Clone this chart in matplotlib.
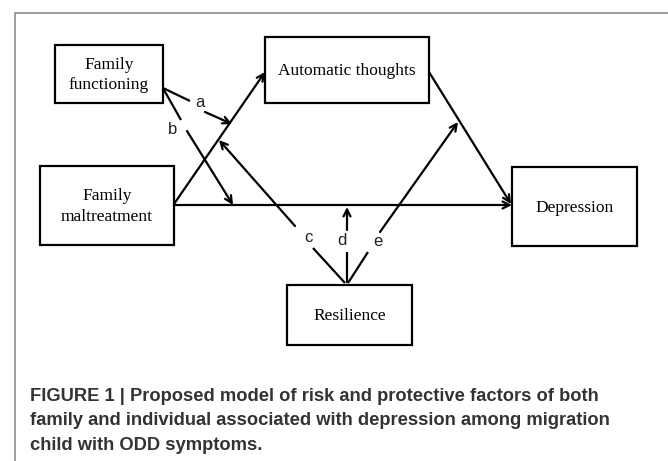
import matplotlib.pyplot as plt

# cajas del modelo (x0, y0, x1, y1) en pixeles de la imagen
cajas = {
    'ff': (55, 45, 163, 103),
    'at': (265, 37, 429, 103),
    'fm': (40, 166, 174, 245),
    'dep': (512, 167, 637, 246),
    'res': (287, 285, 412, 345),
}
textos = {
    'ff': 'Family\nfunctioning',
    'at': 'Automatic thoughts',
    'fm': 'Family\nmaltreatment',
    'dep': 'Depression',
    'res': 'Resilience',
}

# caminos directos: (inicio, fin)
caminos = [
    ((174, 204), (265, 72)),
    ((174, 205), (512, 205)),
    ((429, 72), (511, 204)),
]

# moderadores: etiqueta, posicion etiqueta, tramo sin flecha, tramo con flecha
moderadores = [
    ('a', (200, 102), ((163, 88), (190, 101)), ((205, 112), (232, 124))),
    ('b', (173, 129), ((164, 90), (181, 120)), ((187, 131), (233, 205))),
    ('c', (308, 237), ((345, 283), (313, 248)), ((295, 226), (219, 140))),
    ('d', (342, 240), ((347, 283), (347, 252)), ((347, 230), (347, 207))),
    ('e', (378, 241), ((348, 283), (368, 252)), ((380, 232), (458, 122))),
]

caption = ['FIGURE 1 | Proposed model of risk and protective factors of both',
           'family and individual associated with depression among migration',
           'child with ODD symptoms.']

fig = plt.figure(figsize=(6.68, 4.61), dpi=100)
ax = fig.add_axes([0, 0, 1, 1])
ax.set_xlim(0, 668)
ax.set_ylim(461, 0)
ax.axis('off')

# marco gris
ax.plot([15, 15, 668], [461, 13, 13], color='#8c8c8c', lw=1.2)

for k, (x0, y0, x1, y1) in cajas.items():
    ax.add_patch(plt.Rectangle((x0, y0), x1 - x0, y1 - y0, fill=False,
                               edgecolor='black', lw=1.6))
    ax.text((x0 + x1) / 2, (y0 + y1) / 2 + 1, textos[k], ha='center', va='center',
            family='Liberation Serif', fontsize=12.5, linespacing=1.4)

flecha = dict(arrowstyle='->,head_length=0.5,head_width=0.25', color='black',
              lw=1.6, shrinkA=0, shrinkB=0)

for ini, fin in caminos:
    ax.annotate('', xy=fin, xytext=ini, arrowprops=flecha)

for etiqueta, pos, tramo1, tramo2 in moderadores:
    ax.plot([tramo1[0][0], tramo1[1][0]], [tramo1[0][1], tramo1[1][1]],
            color='black', lw=1.6, solid_capstyle='butt')
    ax.annotate('', xy=tramo2[1], xytext=tramo2[0], arrowprops=flecha)
    ax.text(pos[0], pos[1], etiqueta, ha='center', va='center',
            family='Liberation Sans', fontsize=12, color='#222222')

for i, linea in enumerate(caption):
    ax.text(30, 396 + i * 24.5, linea, ha='left', va='center',
            family='Liberation Sans', fontweight='bold', fontsize=13.2,
            color='#333333')

fig.savefig('out.png', dpi=100)
